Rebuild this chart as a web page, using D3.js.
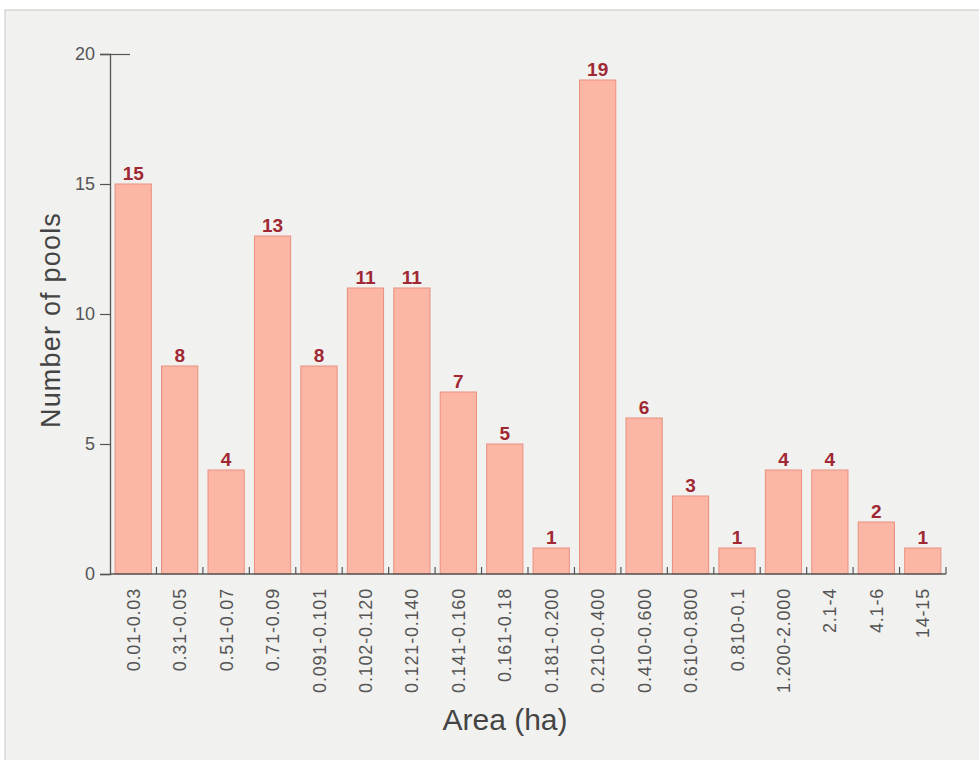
<!DOCTYPE html>
<html>
<head>
<meta charset="utf-8">
<script src="https://cdn.jsdelivr.net/npm/d3@7"></script>
<style>
  body { margin: 0; background: #fff; }
  svg { display: block; font-family: "Liberation Sans", Arial, sans-serif; }
</style>
</head>
<body>
<svg id="chart" width="979" height="760"></svg>
<script>
const categories = ['0.01-0.03', '0.31-0.05', '0.51-0.07', '0.71-0.09', '0.091-0.101', '0.102-0.120',
  '0.121-0.140', '0.141-0.160', '0.161-0.18', '0.181-0.200', '0.210-0.400', '0.410-0.600',
  '0.610-0.800', '0.810-0.1', '1.200-2.000', '2.1-4', '4.1-6', '14-15']
const pools = [15, 8, 4, 13, 8, 11, 11, 7, 5, 1, 19, 6, 3, 1, 4, 4, 2, 1]
const yTicks = [0, 5, 10, 15, 20]

const svg = d3.select('#chart')

// scanned page panel
svg.append('rect')
  .attr('x', 5).attr('y', 10)
  .attr('width', 990).attr('height', 760)
  .attr('fill', '#f1f1ef')
  .attr('stroke', '#c8c8c8')
  .attr('stroke-width', 1)

const margin = { top: 54, left: 110 }
const width = 836, height = 520

const g = svg.append('g').attr('transform', 'translate(' + margin.left + ',' + margin.top + ')')

const x = d3.scaleBand()
  .domain(categories)
  .range([0, width])
  .paddingInner(0.22)
  .paddingOuter(0.11)

const y = d3.scaleLinear()
  .domain([0, 20])
  .range([height, 0])

// bars
g.selectAll('.bar')
  .data(pools)
  .enter().append('rect')
  .attr('x', (d, i) => x(categories[i]))
  .attr('y', d => y(d))
  .attr('width', x.bandwidth())
  .attr('height', d => height - y(d))
  .attr('fill', '#fbb6a6')
  .attr('stroke', '#e98f7e')
  .attr('stroke-width', 1)

// value labels
g.selectAll('.val')
  .data(pools)
  .enter().append('text')
  .attr('x', (d, i) => x(categories[i]) + x.bandwidth() / 2)
  .attr('y', d => y(d) - 4)
  .attr('text-anchor', 'middle')
  .attr('fill', '#a02833')
  .style('font-size', '19px')
  .style('font-weight', 'bold')
  .text(d => d)

// y axis
const yAxis = g.append('g')
  .call(d3.axisLeft(y).tickValues(yTicks).tickSize(10).tickPadding(5))
yAxis.select('.domain').attr('stroke', '#555').attr('stroke-width', 1.3)
yAxis.selectAll('.tick line').attr('stroke', '#555').attr('stroke-width', 1.2)
yAxis.selectAll('.tick text').attr('fill', '#555').style('font-size', '18px')
yAxis.selectAll('.tick').filter(d => d === 20)
  .select('line').attr('x2', 20).attr('x1', -10)

// x axis: baseline and small ticks between bars
g.append('line')
  .attr('x1', 0).attr('x2', width)
  .attr('y1', height).attr('y2', height)
  .attr('stroke', '#555').attr('stroke-width', 1.3)

const step = x.step()
const tickPos = d3.range(1, categories.length + 1).map(i => i * step)
g.selectAll('.xt')
  .data(tickPos)
  .enter().append('line')
  .attr('x1', d => d).attr('x2', d => d)
  .attr('y1', height).attr('y2', height - 7)
  .attr('stroke', '#555').attr('stroke-width', 1.2)

g.selectAll('.xl')
  .data(categories)
  .enter().append('text')
  .attr('transform', d => 'translate(' + (x(d) + x.bandwidth() / 2 + 6.5) + ',' + (height + 14) + ') rotate(-90)')
  .attr('text-anchor', 'end')
  .attr('fill', '#555')
  .style('font-size', '18px')
  .style('letter-spacing', '0.8px')
  .text(d => d)

// axis titles
svg.append('text')
  .attr('transform', 'translate(60,320) rotate(-90)')
  .attr('text-anchor', 'middle')
  .attr('fill', '#444')
  .style('font-size', '27px')
  .style('letter-spacing', '1.2px')
  .text('Number of pools')

svg.append('text')
  .attr('x', 505).attr('y', 730)
  .attr('text-anchor', 'middle')
  .attr('fill', '#444')
  .style('font-size', '30px')
  .text('Area (ha)')
</script>
</body>
</html>
